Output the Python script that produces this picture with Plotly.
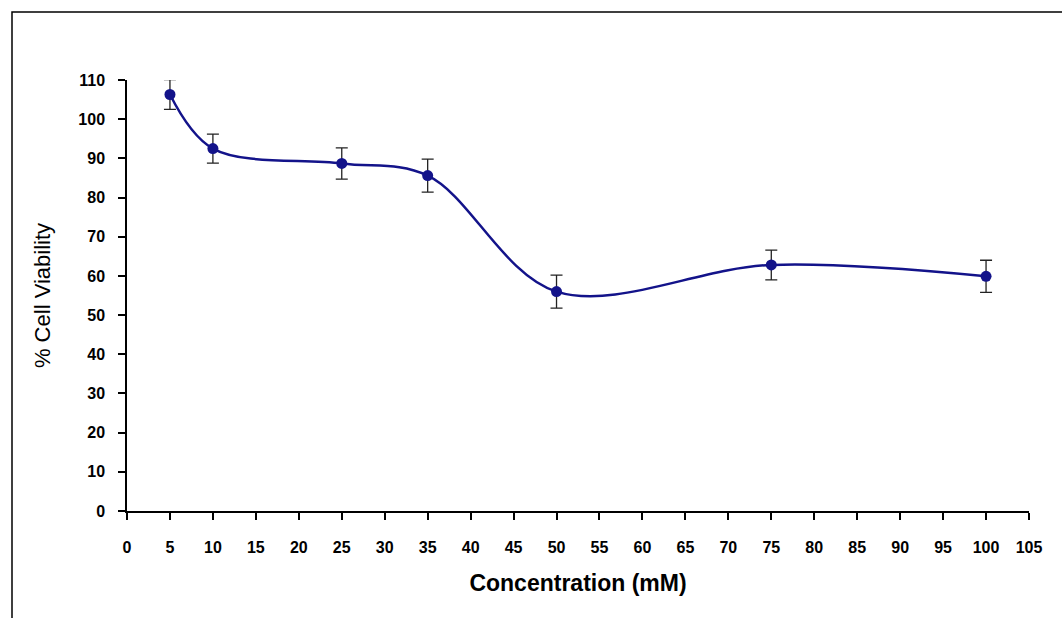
import plotly.graph_objects as go

concentration = [5, 10, 25, 35, 50, 75, 100]
viability = [106.3, 92.5, 88.7, 85.6, 56.0, 62.8, 59.9]
error = [3.8, 3.7, 4.0, 4.2, 4.2, 3.8, 4.1]

x_ticks = list(range(0, 106, 5))
y_ticks = list(range(0, 111, 10))

fig = go.Figure()
fig.add_trace(go.Scatter(
    x=concentration, y=viability,
    mode="lines+markers",
    line=dict(color="#13138a", width=2.5, shape="spline", smoothing=1.0),
    marker=dict(color="#13138a", size=11),
    error_y=dict(type="data", array=error, visible=True, color="#222222", thickness=1.3, width=6),
    showlegend=False,
))

fig.update_layout(
    width=1062, height=618,
    margin=dict(l=127, r=33, t=80, b=107),
    paper_bgcolor="white", plot_bgcolor="white",
    font=dict(family="Liberation Sans, Arial", color="black"),
    xaxis=dict(
        range=[0, 105], tickvals=x_ticks, ticktext=[str(v) for v in x_ticks],
        showgrid=False, zeroline=False, showline=True, linecolor="black", linewidth=1.5,
        ticks="outside", ticklen=7, tickcolor="black", tickwidth=1.5,
        tickfont=dict(size=16, family="Liberation Sans, Arial", weight="bold"),
        ticklabelstandoff=14,
        title=dict(text="Concentration (mM)", font=dict(size=23, weight="bold"), standoff=20),
    ),
    yaxis=dict(
        range=[0, 110], tickvals=y_ticks, ticktext=[str(v) for v in y_ticks],
        showgrid=False, zeroline=False, showline=True, linecolor="black", linewidth=1.5,
        ticks="outside", ticklen=7, tickcolor="black", tickwidth=1.5,
        tickfont=dict(size=16, family="Liberation Sans, Arial", weight="bold"),
        ticklabelstandoff=10,
        title=dict(text="% Cell Viability", font=dict(size=22), standoff=22),
    ),
    shapes=[dict(
        type="rect", xref="paper", yref="paper",
        x0=(12 - 127) / 902, x1=1.2, y0=-0.4, y1=(511 - 12) / 431,
        line=dict(color="black", width=1.5), fillcolor="rgba(0,0,0,0)", layer="below",
    )],
)

fig.write_html("out.html")
